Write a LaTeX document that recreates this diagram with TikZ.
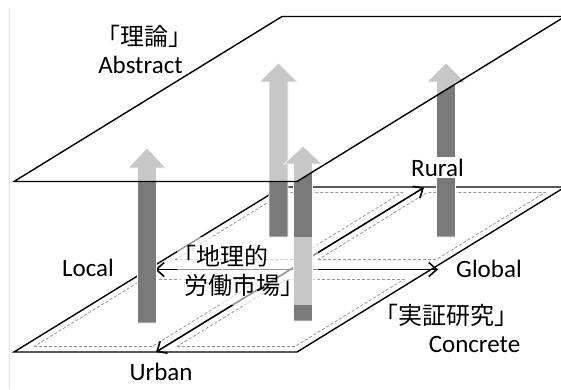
\documentclass[tikz,border=0pt]{standalone}
\usepackage{fontspec}
\setmainfont{Carlito}
\newfontfamily\jpfont{Noto Sans CJK JP}
\usetikzlibrary{arrows.meta}
\definecolor{bardark}{HTML}{7A7A7A}
\definecolor{dashgray}{HTML}{959595}
\definecolor{framegray}{HTML}{E2E2E2}
\newcommand\bararrow[4]{%
  \filldraw[barshape] ({#1-9.5},#2) -- ({#1-9.5},#3) -- ({#1-19},#3) -- (#1,#4)
    -- ({#1+19},#3) -- ({#1+9.5},#3) -- ({#1+9.5},#2) -- cycle;}
\begin{document}
\begin{tikzpicture}[x=1pt,y=-1pt,
  plane/.style={line width=1.4pt, line join=miter},
  quad/.style={draw=dashgray, dash pattern=on 3pt off 2pt, line width=0.8pt},
  axis/.style={line width=1.6pt,
    {Straight Barb[length=8pt,width=14pt,line width=1.6pt]}-{Straight Barb[length=8pt,width=14pt,line width=1.6pt]}},
  barshape/.style={fill=bardark, draw=white, line width=0.6pt},
  lbl/.style={font=\fontsize{25}{30}\selectfont, inner sep=0pt},
  jlbl/.style={font=\fontsize{24}{30}\selectfont\jpfont, inner sep=0pt},
]
\useasboundingbox (0,0) rectangle (561,389);
\draw[framegray, line width=0.6pt] (9,8) -- (9,389);

% dashed quadrants of the lower plane
\draw[quad] (33.9,346.6) -- (151.9,346.6) -- (260.9,279.4) -- (142.9,279.4) -- cycle;
\draw[quad] (176.8,346.6) -- (294.8,346.6) -- (403.9,279.4) -- (285.9,279.4) -- cycle;
\draw[quad] (175.1,259.6) -- (293.1,259.6) -- (402.2,192.4) -- (284.2,192.4) -- cycle;
\draw[quad] (318.1,259.6) -- (436.1,259.6) -- (545.2,192.4) -- (427.2,192.4) -- cycle;

% lower plane
\draw[plane] (14,352) -- (297,352) -- (565,187) -- (282,187) -- cycle;

% axes
\coordinate (Lt) at (155,269.5);
\coordinate (Gt) at (438,269.5);
\coordinate (Ut) at (156,352);
\coordinate (Rt) at (424,187.5);
\draw[axis] (Lt) -- (Gt);
\draw[axis] (Ut) -- (Rt);

% bars
\bararrow{147}{323}{168}{148}
\bararrow{278.5}{237}{82}{63}
\bararrow{303}{321}{164}{146}
\bararrow{446}{237}{82}{63}

% upper plane (translucent)
\filldraw[plane, fill=white, fill opacity=0.58] (14,181.5) -- (297,181.5) -- (565,16.5) -- (282,16.5) -- cycle;

% translucent label backdrop
\fill[white, opacity=0.58] (177,237) rectangle (318,305);

% labels
\node[jlbl] (riron) at (144,36) {「理論」};
\node[lbl, anchor=base] (abstract) at (140.5,73) {Abstract};
\node[lbl, anchor=base, fill=white, inner sep=1.5pt] (rural) at (437.5,176) {Rural};
\node[lbl, anchor=base] (local) at (88,276) {Local};
\node[lbl, anchor=base] (urban) at (161,380) {Urban};
\node[lbl, anchor=base] (global) at (489,277) {Global};
\node[jlbl] (jissho) at (446.5,315) {「実証研究」};
\node[lbl, anchor=base] (concrete) at (474.5,352) {Concrete};
\node[jlbl, anchor=west] (chiri1) at (172,256) {「地理的};
\node[jlbl, anchor=west] (chiri2) at (184,285.5) {労働市場」};
\end{tikzpicture}
\end{document}
